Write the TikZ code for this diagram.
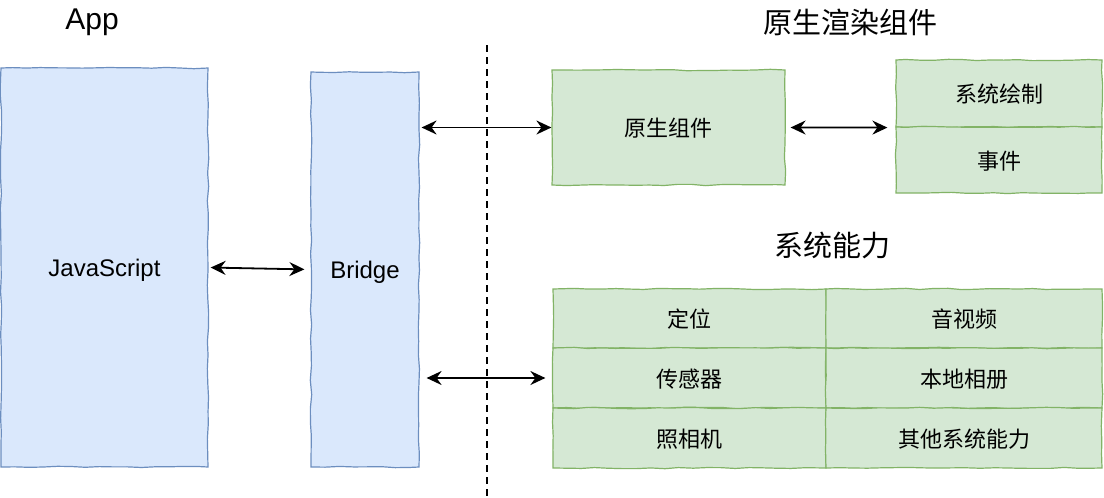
\documentclass[tikz,border=0pt]{standalone}
\usepackage{fontspec}
\setmainfont{Liberation Sans}
\newfontfamily\cjk{Noto Sans CJK SC}
\usetikzlibrary{arrows.meta,decorations.pathmorphing}
\definecolor{azulfondo}{HTML}{DAE8FC}
\definecolor{azulborde}{HTML}{6C8EBF}
\definecolor{verdefondo}{HTML}{D5E8D4}
\definecolor{verdeborde}{HTML}{82B366}
\tikzset{
  caja/.style={draw, line width=1.2pt, inner sep=0pt, text depth=0pt,
    decorate, decoration={random steps, segment length=14pt, amplitude=0.7pt},
    font=\fontsize{24}{28}\selectfont},
  azul/.style={caja, fill=azulfondo, draw=azulborde},
  verde/.style={caja, fill=verdefondo, draw=verdeborde, font=\cjk\fontsize{22}{26}\selectfont},
  titulo/.style={font=\fontsize{30}{34}\selectfont},
  flecha/.style={line width=1.8pt, {Stealth[length=15pt,width=14pt,inset=5pt]}-{Stealth[length=15pt,width=14pt,inset=5pt]}}
}
\pgfmathsetseed{7}
\begin{document}
\begin{tikzpicture}[x=1pt,y=-1pt]
  \useasboundingbox (0,0) rectangle (1104,498);

  % Titulos
  \node[titulo] (app) at (92,22) {App};
  \node[titulo, font=\cjk\fontsize{29}{34}\selectfont] (render) at (850,22) {原生渲染组件};
  \node[titulo, font=\cjk\fontsize{29}{34}\selectfont] (sistema) at (832,245) {系统能力};

  % Nodos
  \node[azul, minimum width=207pt, minimum height=399pt] (js) at (104.5,267.5) {JavaScript};
  \node[azul, minimum width=108pt, minimum height=395pt] (bridge) at (365,269.5) {Bridge};
  \node[verde, minimum width=233pt, minimum height=115pt] (native) at (668.5,127.5) {原生组件};
  \node[verde, minimum width=206pt, minimum height=67pt] (dibujo) at (999,93.5) {系统绘制};
  \node[verde, minimum width=206pt, minimum height=66pt] (evento) at (999,160) {事件};

  \node[verde, minimum width=273pt, minimum height=59pt] (pos) at (689.5,318.5) {定位};
  \node[verde, minimum width=276pt, minimum height=59pt] (media) at (964,318.5) {音视频};
  \node[verde, minimum width=273pt, minimum height=60pt] (sensor) at (689.5,378) {传感器};
  \node[verde, minimum width=276pt, minimum height=60pt] (album) at (964,378) {本地相册};
  \node[verde, minimum width=273pt, minimum height=60pt] (camara) at (689.5,438) {照相机};
  \node[verde, minimum width=276pt, minimum height=60pt] (otros) at (964,438) {其他系统能力};

  % Separador
  \coordinate (arriba) at (487,45);
  \coordinate (abajo) at (487,498);
  \draw[line width=1.2pt, dash pattern=on 7pt off 5pt] (arriba) -- (abajo);

  % Flechas
  \draw[flecha, shorten <=2pt, shorten >=6pt] (js.east) -- (bridge.west);
  \draw[flecha, shorten <=2pt] (bridge.east |- native.west) -- (native.west);
  \draw[flecha, shorten <=5pt, shorten >=8pt] (native.east) -- (dibujo.south west);
  \draw[flecha, shorten <=7pt, shorten >=7pt] (bridge.east |- sensor.west) -- (sensor.west);
\end{tikzpicture}
\end{document}
